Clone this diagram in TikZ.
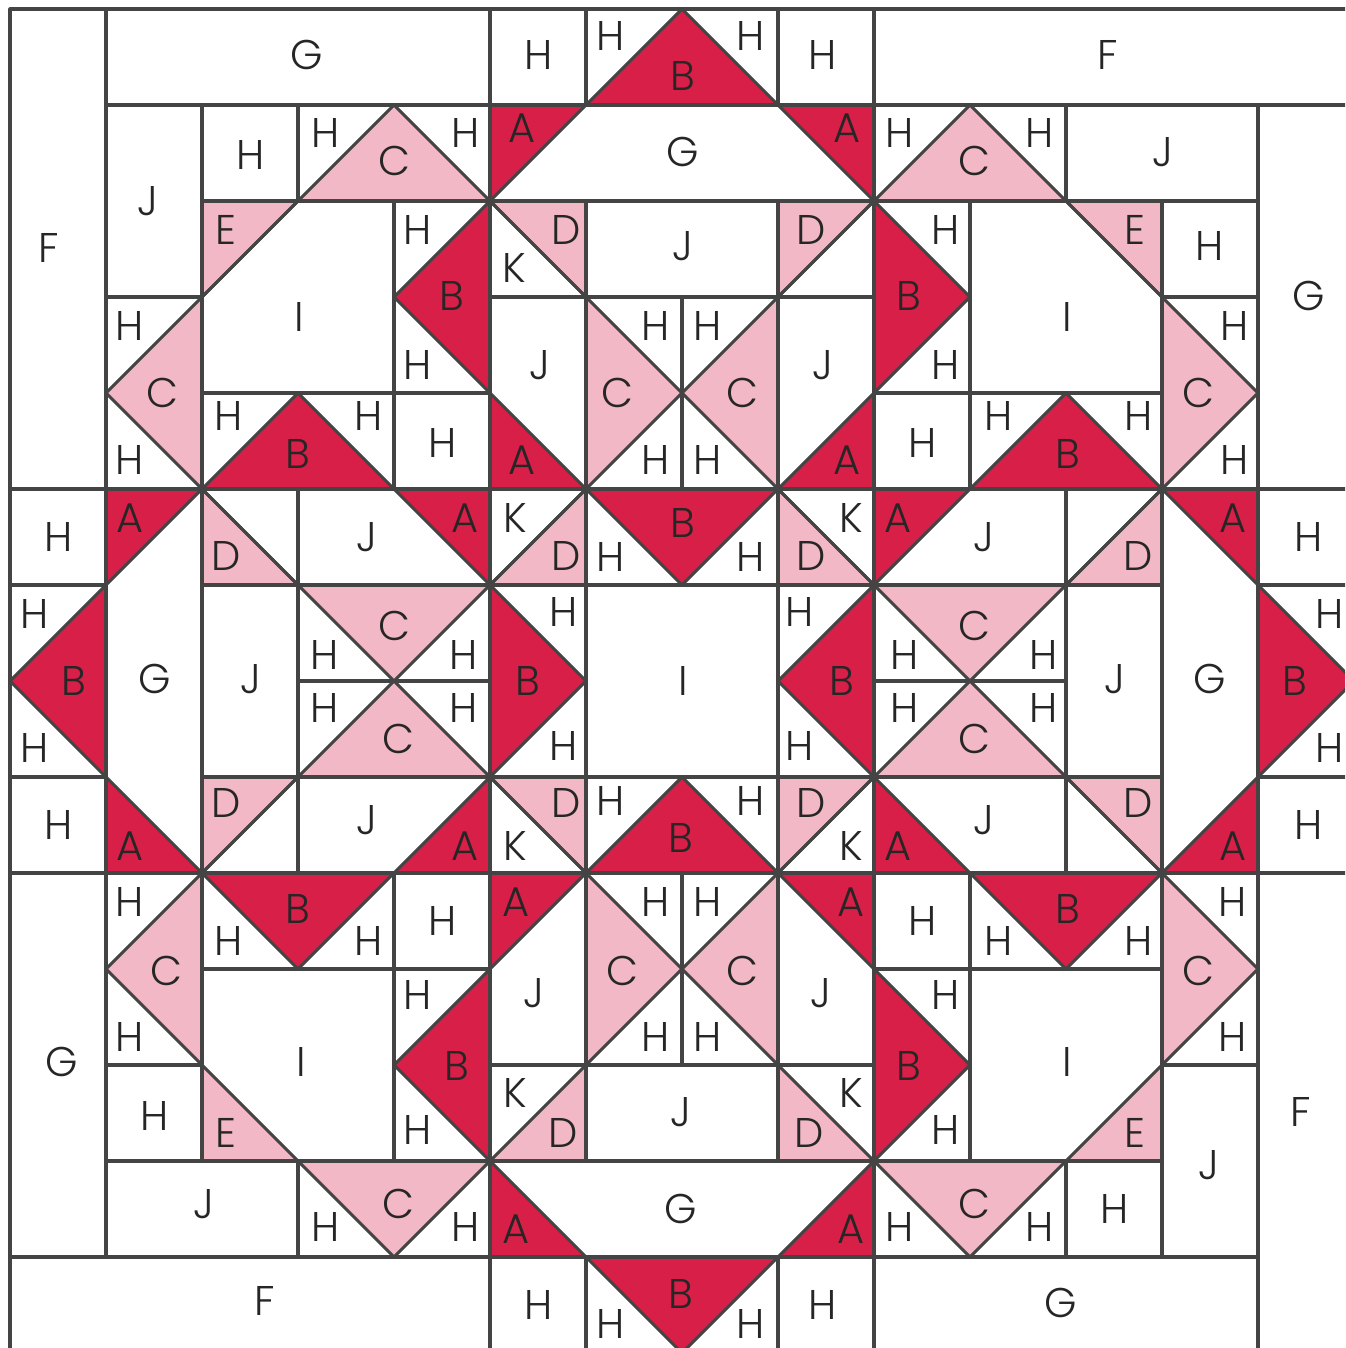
\documentclass[tikz,border=0pt]{standalone}
\usepackage{fontspec}
\setmainfont{Poppins}[UprightFont=* Light]
\definecolor{seam}{HTML}{444444}
\definecolor{deeprose}{HTML}{D81F47}
\definecolor{palerose}{HTML}{F3B8C6}
\tikzset{
  patch/.style={draw=seam, line width=0.9pt, line join=round},
  deep/.style={patch, fill=deeprose},
  pale/.style={patch, fill=palerose},
  letter/.style={inner sep=0pt, text=black!85, font=\fontsize{12.3}{12.3}\selectfont}
}

\begin{document}
\begin{tikzpicture}[x=1cm, y=-1cm]
    \clip (-10/96,-9/96) rectangle (1335/96,1339/96);

    % Deep triangles
    \draw[deep]
        (6,1) -- (7,0) -- (8,1) -- cycle
        (5,1) -- (6,1) -- (5,2) -- cycle
        (8,1) -- (9,1) -- (9,2) -- cycle
        (4,3) -- (5,2) -- (5,4) -- cycle
        (9,2) -- (10,3) -- (9,4) -- cycle
        (2,5) -- (3,4) -- (4,5) -- cycle
        (10,5) -- (11,4) -- (12,5) -- cycle
        (5,4) -- (6,5) -- (5,5) -- cycle
        (8,5) -- (9,4) -- (9,5) -- cycle
        (1,6) -- (0,7) -- (1,8) -- cycle
        (1,5) -- (2,5) -- (1,6) -- cycle
        (1,8) -- (2,9) -- (1,9) -- cycle
        (4,5) -- (5,5) -- (5,6) -- cycle
        (4,9) -- (5,8) -- (5,9) -- cycle
        (6,5) -- (8,5) -- (7,6) -- cycle
        (5,6) -- (6,7) -- (5,8) -- cycle
        (9,6) -- (8,7) -- (9,8) -- cycle
        (6,9) -- (7,8) -- (8,9) -- cycle
        (9,5) -- (10,5) -- (9,6) -- cycle
        (9,8) -- (10,9) -- (9,9) -- cycle
        (12,5) -- (13,5) -- (13,6) -- cycle
        (12,9) -- (13,8) -- (13,9) -- cycle
        (13,6) -- (14,7) -- (13,8) -- cycle
        (2,9) -- (4,9) -- (3,10) -- cycle
        (10,9) -- (12,9) -- (11,10) -- cycle
        (5,10) -- (4,11) -- (5,12) -- cycle
        (9,10) -- (10,11) -- (9,12) -- cycle
        (5,9) -- (6,9) -- (5,10) -- cycle
        (8,9) -- (9,9) -- (9,10) -- cycle
        (5,12) -- (6,13) -- (5,13) -- cycle
        (9,12) -- (9,13) -- (8,13) -- cycle
        (6,13) -- (8,13) -- (7,14) -- cycle;

    % Pale triangles
    \draw[pale]
        (3,2) -- (4,1) -- (5,2) -- cycle
        (9,2) -- (10,1) -- (11,2) -- cycle
        (2,2) -- (3,2) -- (2,3) -- cycle
        (11,2) -- (12,2) -- (12,3) -- cycle
        (5,2) -- (6,2) -- (6,3) -- cycle
        (8,2) -- (9,2) -- (8,3) -- cycle
        (2,3) -- (1,4) -- (2,5) -- cycle
        (12,3) -- (13,4) -- (12,5) -- cycle
        (6,3) -- (7,4) -- (6,5) -- cycle
        (8,3) -- (7,4) -- (8,5) -- cycle
        (2,5) -- (3,6) -- (2,6) -- cycle
        (6,5) -- (6,6) -- (5,6) -- cycle
        (8,5) -- (9,6) -- (8,6) -- cycle
        (12,5) -- (12,6) -- (11,6) -- cycle
        (3,6) -- (5,6) -- (4,7) -- cycle
        (9,6) -- (11,6) -- (10,7) -- cycle
        (3,8) -- (4,7) -- (5,8) -- cycle
        (9,8) -- (10,7) -- (11,8) -- cycle
        (2,8) -- (3,8) -- (2,9) -- cycle
        (5,8) -- (6,8) -- (6,9) -- cycle
        (8,8) -- (9,8) -- (8,9) -- cycle
        (11,8) -- (12,8) -- (12,9) -- cycle
        (2,9) -- (1,10) -- (2,11) -- cycle
        (12,9) -- (13,10) -- (12,11) -- cycle
        (6,9) -- (7,10) -- (6,11) -- cycle
        (8,9) -- (7,10) -- (8,11) -- cycle
        (2,11) -- (3,12) -- (2,12) -- cycle
        (12,11) -- (12,12) -- (11,12) -- cycle
        (6,11) -- (6,12) -- (5,12) -- cycle
        (8,11) -- (9,12) -- (8,12) -- cycle
        (3,12) -- (5,12) -- (4,13) -- cycle
        (9,12) -- (11,12) -- (10,13) -- cycle;

    % Outer border pieces
    \draw[patch]
        (0,0) rectangle (1,5)
        (1,0) rectangle (5,1)
        (5,0) rectangle (6,1)
        (6,0) rectangle (8,1)
        (8,0) rectangle (9,1)
        (9,0) rectangle (14,1)
        (13,1) rectangle (14,5)
        (0,5) rectangle (1,6)
        (0,6) rectangle (1,8)
        (0,8) rectangle (1,9)
        (13,5) rectangle (14,6)
        (13,6) rectangle (14,8)
        (13,8) rectangle (14,9)
        (0,9) rectangle (1,13)
        (0,13) rectangle (5,14)
        (5,13) rectangle (6,14)
        (6,13) rectangle (8,14)
        (8,13) rectangle (9,14)
        (9,13) rectangle (13,14)
        (13,9) rectangle (14,14);

    % Top blocks
    \draw[patch]
        (1,1) rectangle (2,3)
        (2,1) rectangle (3,2)
        (3,1) rectangle (5,2)
        (9,1) rectangle (11,2)
        (11,1) rectangle (13,2)
        (12,2) rectangle (13,3)
        (2,2) rectangle (4,4)
        (4,2) rectangle (5,4)
        (9,2) rectangle (10,4)
        (10,2) rectangle (12,4)
        (1,3) rectangle (2,5)
        (12,3) rectangle (13,5)
        (2,4) rectangle (4,5)
        (4,4) rectangle (5,5)
        (9,4) rectangle (10,5)
        (10,4) rectangle (12,5)
        (5,2) rectangle (6,3)
        (6,2) rectangle (8,3)
        (8,2) rectangle (9,3)
        (5,3) rectangle (6,5)
        (6,3) rectangle (7,5)
        (7,3) rectangle (8,5)
        (8,3) rectangle (9,5);
    \draw[patch] (5,1) -- (9,1) (5,2) -- (9,2) (5,1) -- (5,2) (9,1) -- (9,2);

    % Middle band
    \draw[patch]
        (1,5) rectangle (2,9)
        (2,5) rectangle (3,6)
        (3,5) rectangle (5,6)
        (2,6) rectangle (3,8)
        (3,6) rectangle (5,7)
        (3,7) rectangle (5,8)
        (2,8) rectangle (3,9)
        (3,8) rectangle (5,9)
        (5,5) rectangle (6,6)
        (6,5) rectangle (8,6)
        (8,5) rectangle (9,6)
        (5,6) rectangle (6,8)
        (6,6) rectangle (8,8)
        (8,6) rectangle (9,8)
        (5,8) rectangle (6,9)
        (6,8) rectangle (8,9)
        (8,8) rectangle (9,9)
        (9,5) rectangle (11,6)
        (11,5) rectangle (12,6)
        (9,6) rectangle (11,7)
        (9,7) rectangle (11,8)
        (11,6) rectangle (12,8)
        (9,8) rectangle (11,9)
        (11,8) rectangle (12,9)
        (12,5) rectangle (13,9);

    % Bottom blocks
    \draw[patch]
        (1,9) rectangle (2,11)
        (2,9) rectangle (4,10)
        (4,9) rectangle (5,10)
        (2,10) rectangle (4,12)
        (4,10) rectangle (5,12)
        (1,11) rectangle (2,12)
        (1,12) rectangle (3,13)
        (3,12) rectangle (5,13)
        (5,9) rectangle (6,11)
        (6,9) rectangle (7,11)
        (7,9) rectangle (8,11)
        (8,9) rectangle (9,11)
        (5,11) rectangle (6,12)
        (6,11) rectangle (8,12)
        (8,11) rectangle (9,12)
        (9,9) rectangle (10,10)
        (10,9) rectangle (12,10)
        (12,9) rectangle (13,11)
        (9,10) rectangle (10,12)
        (10,10) rectangle (12,12)
        (9,12) rectangle (11,13)
        (11,12) rectangle (12,13)
        (12,11) rectangle (13,13);
    \draw[patch] (5,12) -- (9,12) (5,13) -- (9,13) (5,12) -- (5,13) (9,12) -- (9,13);

    % White diagonals
    \draw[patch]
        (2,3) -- (3,2) (11,2) -- (12,3)
        (5,2) -- (6,3) (8,3) -- (9,2)
        (2,5) -- (3,6) (11,6) -- (12,5)
        (5,6) -- (6,5) (8,5) -- (9,6)
        (2,9) -- (3,8) (11,8) -- (12,9)
        (5,8) -- (6,9) (8,9) -- (9,8);

    % Letters, placed by pixel position of the pattern sheet
    \begin{scope}[x=1cm/96, y=-1cm/96, shift={(-9,-8.6)}]
        \foreach [count=\n] \t/\x/\y in {
            G/306/55, H/538/55, H/610/36, H/750/36, B/682/76, H/822/55, F/1107/55,
            F/48/248, J/147/201, H/250/155, H/325/133, C/394/161, H/465/133, A/521/128, G/682/152, A/846/128, H/899/133, C/974/161, H/1039/133, J/1162/152,
            E/225/230, H/417/230, B/451/296, D/565/230, K/513/268, J/682/246, D/810/230, B/908/296, H/945/230, E/1134/230, H/1209/246, G/1308/296,
            I/298/317, I/1066/317, H/129/326, H/417/365, J/539/365, C/617/393, H/655/326, H/707/326, C/742/393, J/822/365, H/945/365, H/1234/326, C/1198/393,
            C/162/393, H/129/460, H/228/416, H/368/416, B/297/454, H/442/443, A/521/460, H/655/460, H/707/460, A/846/460, H/922/443, H/998/416, H/1138/416, B/1067/454, H/1234/460,
            H/58/537, A/129/518, D/225/556, J/366/537, A/464/518, K/514/518, D/565/556, B/682/523, H/610/557, H/750/557, D/810/556, K/850/518, A/897/518, J/983/537, D/1137/556, A/1232/518, H/1308/537,
            H/34/614, B/73/681, G/154/679, J/250/679, C/394/626, H/324/655, H/463/655, H/563/612, B/527/681, I/682/681, H/799/612, B/841/681, H/904/655, C/974/626, H/1043/655, J/1114/679, G/1209/679, B/1294/681, H/1329/614,
            H/34/748, H/324/708, H/463/708, C/398/739, H/563/746, H/799/746, H/904/708, C/974/739, H/1043/708, H/1329/748,
            H/58/825, A/129/846, D/225/803, J/366/820, A/464/846, K/514/846, D/565/803, H/610/801, H/750/801, B/680/838, D/810/803, K/850/846, A/897/846, J/983/820, D/1137/803, A/1232/846, H/1308/825,
            H/129/902, C/166/971, H/129/1037, G/61/1062, H/228/941, B/297/909, H/368/941, H/442/921, A/515/902, J/533/993, C/622/971, H/655/902, H/655/1037, H/707/902, H/707/1037, C/742/971, A/850/902, J/820/993, H/922/921, H/998/941, B/1067/909, H/1138/941, H/1232/902, C/1198/971, H/1232/1037,
            H/417/995, B/456/1066, H/417/1130, I/300/1062, B/908/1066, H/945/995, H/945/1130, I/1066/1062,
            H/154/1116, E/225/1133, K/514/1093, D/562/1133, J/680/1112, K/850/1093, D/808/1133, E/1134/1133, H/1114/1209, J/1208/1165, F/1300/1112,
            J/203/1204, H/325/1227, C/398/1204, H/465/1227, A/515/1229, G/680/1209, A/850/1229, H/899/1227, C/974/1204, H/1039/1227,
            F/264/1301, H/538/1305, H/610/1324, B/680/1294, H/750/1324, H/822/1305, G/1060/1303}
            \node[letter] (piece\n) at (\x,\y) {\t};
    \end{scope}
\end{tikzpicture}
\end{document}
